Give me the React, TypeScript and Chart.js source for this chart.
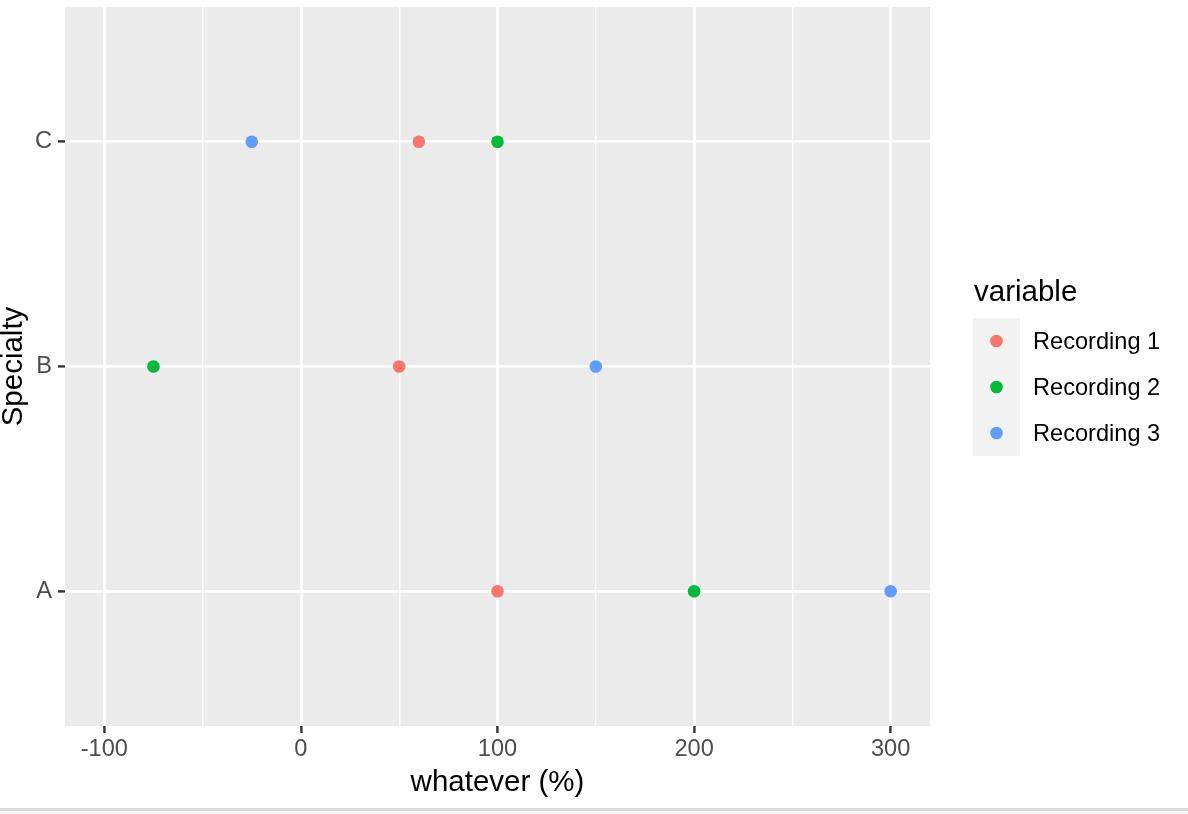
import React, { useEffect, useRef } from 'react';
import { Chart, registerables } from 'chart.js';

Chart.register(...registerables);

// ---- data ----
const specialties = ['A', 'B', 'C'];
const seriesNames = ['Recording 1', 'Recording 2', 'Recording 3'];
const recording1 = [100, 50, 60];
const recording2 = [200, -75, 100];
const recording3 = [300, 150, -25];
const seriesColors = ['#F8766D', '#00BA38', '#619CFF'];
const xTickValues = [-100, -50, 0, 50, 100, 150, 200, 250, 300];
const xMajorTicks = [-100, 0, 100, 200, 300];
const xTitle = 'whatever (%)';
const yTitle = 'Specialty';
const legendTitle = 'variable';

const FONT = "'Liberation Sans', Arial, Helvetica, sans-serif";
const TICK_SIZE = 23.6;
const TITLE_SIZE = 29.5;

const panelBg = {
  id: 'panelBg',
  beforeDraw(chart: any) {
    const { ctx, chartArea: a } = chart;
    ctx.save();
    ctx.fillStyle = '#EBEBEB';
    ctx.fillRect(a.left, a.top, a.right - a.left, a.bottom - a.top);
    ctx.restore();
  },
};

const ggLegend = {
  id: 'ggLegend',
  afterDraw(chart: any) {
    const ctx = chart.ctx;
    const keyLeft = 973;
    const keyTop = 318;
    const keyW = 47;
    const keyH = 46;
    ctx.save();
    ctx.textAlign = 'left';
    ctx.textBaseline = 'alphabetic';
    ctx.fillStyle = '#000000';
    ctx.font = `${TITLE_SIZE}px ${FONT}`;
    ctx.fillText(legendTitle, 974, 301);
    const ds = chart.data.datasets;
    ctx.fillStyle = '#F2F2F2';
    ctx.fillRect(keyLeft, keyTop, keyW, keyH * ds.length);
    ds.forEach((d: any, i: number) => {
      const cy = keyTop + keyH * i + keyH / 2;
      ctx.beginPath();
      ctx.arc(keyLeft + keyW / 2, cy, 6.3, 0, Math.PI * 2);
      ctx.fillStyle = d.backgroundColor;
      ctx.fill();
      ctx.fillStyle = '#000000';
      ctx.font = `${TICK_SIZE}px ${FONT}`;
      ctx.fillText(d.label, 1033, cy + 8.4);
    });
    ctx.restore();
  },
};

export default function App() {
  const ref = useRef<HTMLCanvasElement | null>(null);

  useEffect(() => {
    if (!ref.current) return;
    const seriesValues = [recording1, recording2, recording3];
    const chart = new Chart(ref.current, {
      type: 'scatter',
      data: {
        datasets: seriesValues.map((vals, s) => ({
          label: seriesNames[s],
          data: vals.map((v, i) => ({ x: v, y: i + 1 })),
          backgroundColor: seriesColors[s],
          borderColor: seriesColors[s],
          pointRadius: 6.3,
          pointHoverRadius: 6.3,
          pointBorderWidth: 0,
        })),
      },
      options: {
        responsive: false,
        animation: false,
        devicePixelRatio: 1,
        events: [],
        layout: { padding: { left: 0, top: 7, right: 258, bottom: 0 } },
        plugins: {
          legend: { display: false },
          tooltip: { enabled: false },
        },
        scales: {
          x: {
            type: 'linear',
            position: 'bottom',
            min: -120,
            max: 320,
            afterBuildTicks: (s: any) => {
              s.ticks = xTickValues.map((v) => ({ value: v }));
            },
            afterFit: (s: any) => {
              s.height = 88;
              s.paddingLeft = 0;
              s.paddingRight = 0;
            },
            ticks: {
              autoSkip: false,
              maxRotation: 0,
              minRotation: 0,
              padding: 2,
              color: '#4D4D4D',
              font: { family: FONT, size: TICK_SIZE },
              callback: (v: any) => (xMajorTicks.includes(Number(v)) ? String(v) : ''),
            },
            grid: {
              color: '#FFFFFF',
              lineWidth: (c: any) => (c.tick && xMajorTicks.includes(c.tick.value) ? 2.8 : 1.4),
              drawTicks: true,
              tickLength: 7,
              tickWidth: 2.4,
              tickColor: (c: any) =>
                c.tick && xMajorTicks.includes(c.tick.value) ? '#333333' : 'rgba(0,0,0,0)',
            },
            border: { display: false },
            title: {
              display: true,
              text: xTitle,
              color: '#000000',
              font: { family: FONT, size: TITLE_SIZE },
              padding: { top: 0, bottom: 13.4 },
            },
          },
          y: {
            type: 'linear',
            min: 0.4,
            max: 3.6,
            afterBuildTicks: (s: any) => {
              s.ticks = specialties.map((_, i) => ({ value: i + 1 }));
            },
            afterFit: (s: any) => {
              s.width = 65;
              s.paddingTop = 0;
              s.paddingBottom = 0;
            },
            ticks: {
              padding: 6,
              color: '#4D4D4D',
              font: { family: FONT, size: TICK_SIZE },
              callback: (v: any) => specialties[Number(v) - 1] ?? '',
            },
            grid: {
              color: '#FFFFFF',
              lineWidth: 2.8,
              drawTicks: true,
              tickLength: 7,
              tickWidth: 2.4,
              tickColor: '#333333',
            },
            border: { display: false },
            title: {
              display: true,
              text: yTitle,
              color: '#000000',
              font: { family: FONT, size: TITLE_SIZE, lineHeight: 1 },
              padding: { top: -1, bottom: 0 },
            },
          },
        },
      },
      plugins: [panelBg, ggLegend],
    } as any);
    return () => chart.destroy();
  }, []);

  return (
    <div
      style={{
        position: 'fixed',
        left: 0,
        top: 0,
        width: 1188,
        height: 814,
        background: '#FFFFFF',
        overflow: 'hidden',
      }}
    >
      <canvas ref={ref} width={1188} height={814} style={{ display: 'block' }} />
      <div style={{ position: 'absolute', left: 0, top: 808, width: 1188, height: 3, background: '#DADADA' }} />
      <div style={{ position: 'absolute', left: 0, top: 811, width: 1188, height: 3, background: '#F5F5F5' }} />
    </div>
  );
}
